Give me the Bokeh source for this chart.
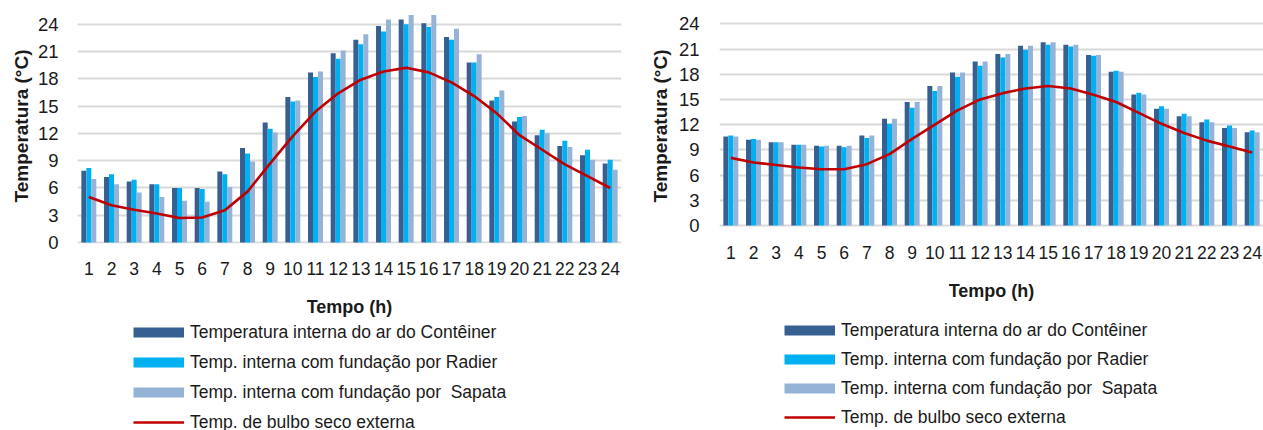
from bokeh.plotting import figure
from bokeh.models import ColumnDataSource, FactorRange, Range1d, FixedTicker, Legend, LegendItem
from bokeh.transform import dodge
from bokeh.layouts import row, column
from bokeh.embed import file_html
from bokeh.resources import INLINE

hours = [str(h) for h in range(1, 25)]
yticks = [0, 3, 6, 9, 12, 15, 18, 21, 24]

series_labels = ["Temperatura interna do ar do Contêiner",
                 "Temp. interna com fundação por Radier",
                 "Temp. interna com fundação por  Sapata",
                 "Temp. de bulbo seco externa"]

left_conteiner = [7.9, 7.2, 6.7, 6.4, 6.0, 6.0, 7.8, 10.4, 13.2, 16.0, 18.7, 20.8,
                  22.3, 23.8, 24.5, 24.1, 22.6, 19.8, 15.6, 13.3, 11.8, 10.6, 9.6, 8.7]
left_radier = [8.2, 7.5, 6.9, 6.4, 6.0, 5.9, 7.5, 9.8, 12.5, 15.5, 18.2, 20.2,
               21.8, 23.2, 24.0, 23.7, 22.3, 19.8, 16.0, 13.8, 12.4, 11.2, 10.2, 9.1]
left_sapata = [7.0, 6.4, 5.5, 5.0, 4.6, 4.5, 6.1, 8.9, 12.1, 15.6, 18.8, 21.1,
               22.9, 24.5, 25.0, 25.0, 23.5, 20.7, 16.7, 13.9, 12.0, 10.5, 9.1, 8.0]
left_externa = [5.0, 4.1, 3.6, 3.2, 2.7, 2.75, 3.55, 5.6, 8.7, 11.7, 14.4, 16.4,
                17.9, 18.8, 19.2, 18.7, 17.6, 16.1, 14.2, 11.8, 10.2, 8.6, 7.3, 6.0]

right_conteiner = [10.6, 10.2, 9.9, 9.6, 9.5, 9.5, 10.7, 12.7, 14.7, 16.6, 18.2, 19.5,
                   20.4, 21.4, 21.8, 21.5, 20.3, 18.3, 15.6, 13.9, 13.0, 12.3, 11.6, 11.1]
right_radier = [10.7, 10.3, 9.9, 9.6, 9.4, 9.3, 10.4, 12.1, 14.0, 16.0, 17.7, 19.0,
                20.0, 20.9, 21.5, 21.3, 20.2, 18.4, 15.8, 14.2, 13.3, 12.6, 11.9, 11.3]
right_sapata = [10.6, 10.2, 9.9, 9.6, 9.5, 9.5, 10.7, 12.7, 14.7, 16.6, 18.2, 19.5,
                20.4, 21.4, 21.8, 21.5, 20.3, 18.3, 15.6, 13.9, 13.0, 12.3, 11.6, 11.1]
right_externa = [8.05, 7.5, 7.2, 6.9, 6.7, 6.7, 7.3, 8.5, 10.3, 12.0, 13.7, 15.0,
                 15.75, 16.3, 16.6, 16.3, 15.55, 14.7, 13.4, 12.1, 11.0, 10.1, 9.4, 8.7]

C_DARK = "#376092"
C_RADIER = "#00B0F0"
C_SAPATA = "#95B3D7"
C_LINE = "#C00000"
FONT = "Liberation Sans"
TXT = "#1a1a1a"
H_TOP = 320
H_LEG = 110


def make_chart(cons, rad, sap, ext, width, bl, br, y_start, y_end,
               ylab_standoff, xlab_standoff, ytick_standoff, xtick_standoff):
    src = ColumnDataSource(dict(hour=hours, c=cons, r=rad, s=sap, e=ext))
    p = figure(x_range=FactorRange(*hours), y_range=Range1d(y_start, y_end),
               width=width, height=H_TOP, output_backend="svg", toolbar_location=None,
               min_border_left=bl, min_border_right=br, min_border_top=8,
               min_border_bottom=H_TOP - 243, outline_line_color=None)
    bw = 0.22
    p.vbar(x=dodge("hour", -bw, range=p.x_range), top="c", bottom=0, width=bw,
           source=src, fill_color=C_DARK, line_color=None)
    p.vbar(x=dodge("hour", 0, range=p.x_range), top="r", bottom=0, width=bw,
           source=src, fill_color=C_RADIER, line_color=None)
    p.vbar(x=dodge("hour", bw, range=p.x_range), top="s", bottom=0, width=bw,
           source=src, fill_color=C_SAPATA, line_color=None)
    p.line(x="hour", y="e", source=src, line_color=C_LINE, line_width=2.6)

    p.xgrid.grid_line_color = None
    p.ygrid.grid_line_color = "#D9D9D9"
    p.ygrid.grid_line_width = 2
    p.yaxis.ticker = FixedTicker(ticks=yticks)

    for ax in (p.xaxis[0], p.yaxis[0]):
        ax.axis_line_color = None
        ax.major_tick_line_color = None
        ax.minor_tick_line_color = None
        ax.major_tick_out = 0
        ax.major_tick_in = 0
        ax.major_label_text_font = FONT
        ax.major_label_text_color = TXT
        ax.axis_label_text_font = FONT
        ax.axis_label_text_font_style = "bold"
        ax.axis_label_text_color = TXT
    p.yaxis.axis_label = "Temperatura (°C)"
    p.xaxis.axis_label = "Tempo (h)"
    p.yaxis.major_label_text_font_size = "18.5px"
    p.xaxis.major_label_text_font_size = "17.5px"
    p.yaxis.axis_label_text_font_size = "19px"
    p.xaxis.axis_label_text_font_size = "18px"
    p.yaxis.major_label_standoff = ytick_standoff
    p.xaxis.major_label_standoff = xtick_standoff
    p.yaxis.axis_label_standoff = ylab_standoff
    p.xaxis.axis_label_standoff = xlab_standoff
    return p


def make_legend(cons, rad, sap, ext, width, bl, br, loc, spacing):
    # legend-only panel: the series lie outside its (empty) view window
    lf = figure(width=width, height=H_LEG, x_range=Range1d(-2, -1), y_range=Range1d(-2, -1),
                x_axis_type=None, y_axis_type=None, output_backend="svg",
                toolbar_location=None, min_border_left=bl, min_border_right=br,
                min_border_top=0, min_border_bottom=0, outline_line_color=None)
    lf.grid.visible = False
    src = ColumnDataSource(dict(x=[int(h) for h in hours], c=cons, r=rad, s=sap, e=ext))
    g1 = lf.line("x", "c", source=src, line_color=C_DARK, line_width=10)
    g2 = lf.line("x", "r", source=src, line_color=C_RADIER, line_width=10)
    g3 = lf.line("x", "s", source=src, line_color=C_SAPATA, line_width=10)
    g4 = lf.line("x", "e", source=src, line_color=C_LINE, line_width=2.6)
    items = [LegendItem(label=lab, renderers=[g]) for lab, g in
             zip(series_labels, [g1, g2, g3, g4])]
    leg = Legend(items=items, location=loc, background_fill_alpha=0,
                 border_line_color=None, padding=0, margin=0, spacing=spacing,
                 label_height=22, glyph_height=12, glyph_width=51, label_standoff=6,
                 label_text_font=FONT, label_text_font_size="17.5px",
                 label_text_color=TXT)
    lf.add_layout(leg)
    return lf


p1 = make_chart(left_conteiner, left_radier, left_sapata, left_externa,
                width=640, bl=77, br=19, y_start=-0.1, y_end=25.72,
                ylab_standoff=3, xlab_standoff=19, ytick_standoff=19, xtick_standoff=18)
p2 = make_chart(right_conteiner, right_radier, right_sapata, right_externa,
                width=623, bl=79, br=0, y_start=-2.14, y_end=25.82,
                ylab_standoff=5, xlab_standoff=19, ytick_standoff=20, xtick_standoff=2)
l1 = make_legend(left_conteiner, left_radier, left_sapata, left_externa,
                 640, 77, 19, (56, -3), 8)
l2 = make_legend(right_conteiner, right_radier, right_sapata, right_externa,
                 623, 79, 0, (65, 2), 7)

layout = column(row(p1, p2), row(l1, l2))
open("out.html", "w").write(file_html(layout, INLINE))
